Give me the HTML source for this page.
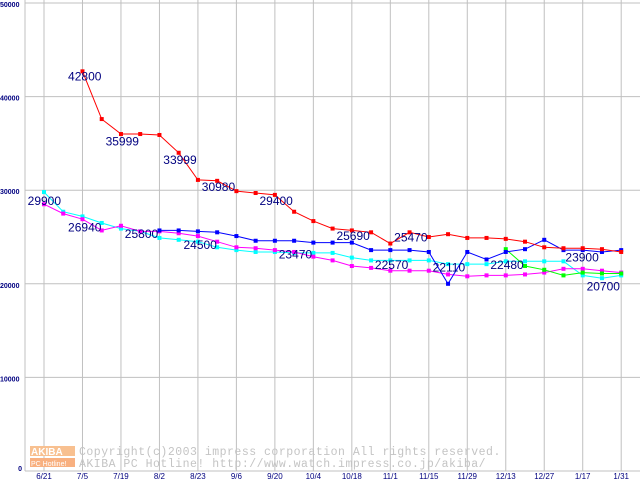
<!DOCTYPE html>
<html><head><meta charset="utf-8"><style>
body{margin:0;background:#fff;}
svg{display:block;font-family:"Liberation Sans",sans-serif;}
</style></head><body>
<svg id="chart" width="640" height="480" viewBox="0 0 640 480">
<g id="grid"></g>
<g id="watermark">
<rect x="30" y="446" width="45" height="10" fill="#f8c090"/>
<text x="31" y="455" font-size="10" fill="#fff" font-weight="bold">AKIBA</text>
<rect x="30" y="458" width="45" height="9" fill="#f8b080"/>
<text x="31" y="466" font-size="7" fill="#fff">PC Hotline!</text>
<text x="79" y="455" font-size="11.5" letter-spacing="0.5" fill="#c4c4c4" font-family="Liberation Mono,monospace">Copyright(c)2003 impress corporation All rights reserved.</text>
<text x="79" y="467" font-size="11.5" letter-spacing="0.5" fill="#c4c4c4" font-family="Liberation Mono,monospace">AKIBA PC Hotline!  http://www.watch.impress.co.jp/akiba/</text>
</g>
<g id="series"></g>
<g id="labels"></g>
<g id="axes"></g>
</svg>
<script>
const xTickLabels=["6/21","7/5","7/19","8/2","8/23","9/6","9/20","10/4","10/18","11/1","11/15","11/29","12/13","12/27","1/17","1/31"];
const yTicks=[0,10000,20000,30000,40000,50000];
const redStart=2;
const redValues=[42700,37600,36000,36000,35900,34000,31100,31000,29900,29700,29500,27700,26700,25900,25700,25500,24300,25500,25000,25300,24900,24900,24800,24500,23900,23800,23800,23700,23400];
const blueStart=6;
const blueValues=[25700,25700,25600,25500,25100,24600,24600,24600,24400,24400,24400,23600,23600,23600,23400,20000,23400,22600,23400,23700,24700,23600,23600,23400,23600];
const cyanStart=0;
const cyanValues=[29800,27700,27200,26500,25900,25600,24900,24700,24500,23900,23600,23400,23400,23300,23300,23300,22800,22500,22500,22500,22500,22100,22100,22100,22400,22400,22400,22400,20900,20600,20900];
const magentaStart=0;
const magentaValues=[28500,27500,26900,25700,26200,25600,25600,25400,25100,24500,23900,23800,23600,23400,22900,22500,21900,21700,21400,21400,21400,21000,20800,20900,20900,21000,21200,21600,21600,21400,21200];
const greenStart=24;
const greenValues=[23700,21900,21500,20900,21200,21100,21100];
const labelTexts=["42800","35999","33999","30980","29400","29900","26940","25800","24500","23470","25690","25470","22570","22110","22480","23900","20700"];
const labelIdx=[1.25,3.2,6.2,8.2,11.2,-0.85,1.25,4.2,7.25,12.2,15.2,18.2,17.2,20.2,23.2,27.1,28.2];
const labelVals=[41700,34800,32800,29900,28400,28400,25600,24900,23700,22700,24700,24500,21600,21300,21600,22400,19300];

const X0=44, DX=19.24, Y0=471, YS=468/50000, AX=25;
const xs=i=>X0+i*DX;
const ys=v=>Y0-v*YS;
const NS="http://www.w3.org/2000/svg";
function mk(tag,attrs,parent){const e=document.createElementNS(NS,tag);for(const k in attrs)e.setAttribute(k,attrs[k]);parent.appendChild(e);return e;}
const grid=document.getElementById('grid'),axes=document.getElementById('axes'),ser=document.getElementById('series'),lab=document.getElementById('labels');
yTicks.forEach(t=>{
  const l=mk('line',{x1:AX,x2:640,y1:ys(t),y2:ys(t),stroke:'#c0c0c0','stroke-width':1},grid);
  
  
  const tx=mk('text',{x:t===0?22:0,y:ys(t)+(t===0?0:4),'font-size':7,fill:'#000080','font-weight':'bold','text-anchor':t===0?'end':'start'},axes);
  tx.textContent=String(t);
  
  
});
xTickLabels.forEach((s,i)=>{
  const x=xs(i*2);
  const l=mk('line',{x1:x,x2:x,y1:0,y2:Y0,stroke:'#c0c0c0','stroke-width':1},grid);
  
  
  const tx=mk('text',{x:x,y:479,'font-size':8,fill:'#000080','text-anchor':'middle'},axes);
  tx.textContent=s;
  
  
});
const ax=mk('line',{x1:AX,x2:AX,y1:0,y2:Y0,stroke:'#c0c0c0'},axes);


const bx=mk('line',{x1:AX,x2:640,y1:Y0,y2:Y0,stroke:'#c0c0c0'},axes);


function series(vals,start,color,name){
  const g=mk('g',{},ser);
  
  
  const pts=vals.map((v,i)=>xs(start+i).toFixed(1)+','+ys(v).toFixed(1)).join(' ');
  const pl=mk('polyline',{points:pts,fill:'none',stroke:color,'stroke-width':1},g);
  
  
  vals.forEach((v,i)=>{
    const r=mk('rect',{x:xs(start+i)-2,y:ys(v)-2,width:4,height:4,fill:color},g);
    
    
  });
}
series(cyanValues,cyanStart,'#00ffff','cyan-series');
series(magentaValues,magentaStart,'#ff00ff','magenta-series');
series(greenValues,greenStart,'#00ff00','green-series');
series(blueValues,blueStart,'#0000ff','blue-series');
series(redValues,redStart,'#ff0000','red-series');
labelTexts.forEach((s,i)=>{
  const t=mk('text',{x:xs(labelIdx[i]),y:ys(labelVals[i]),'font-size':12,fill:'#000080'},lab);
  t.textContent=s;
  
  
});
</script>
</body></html>
